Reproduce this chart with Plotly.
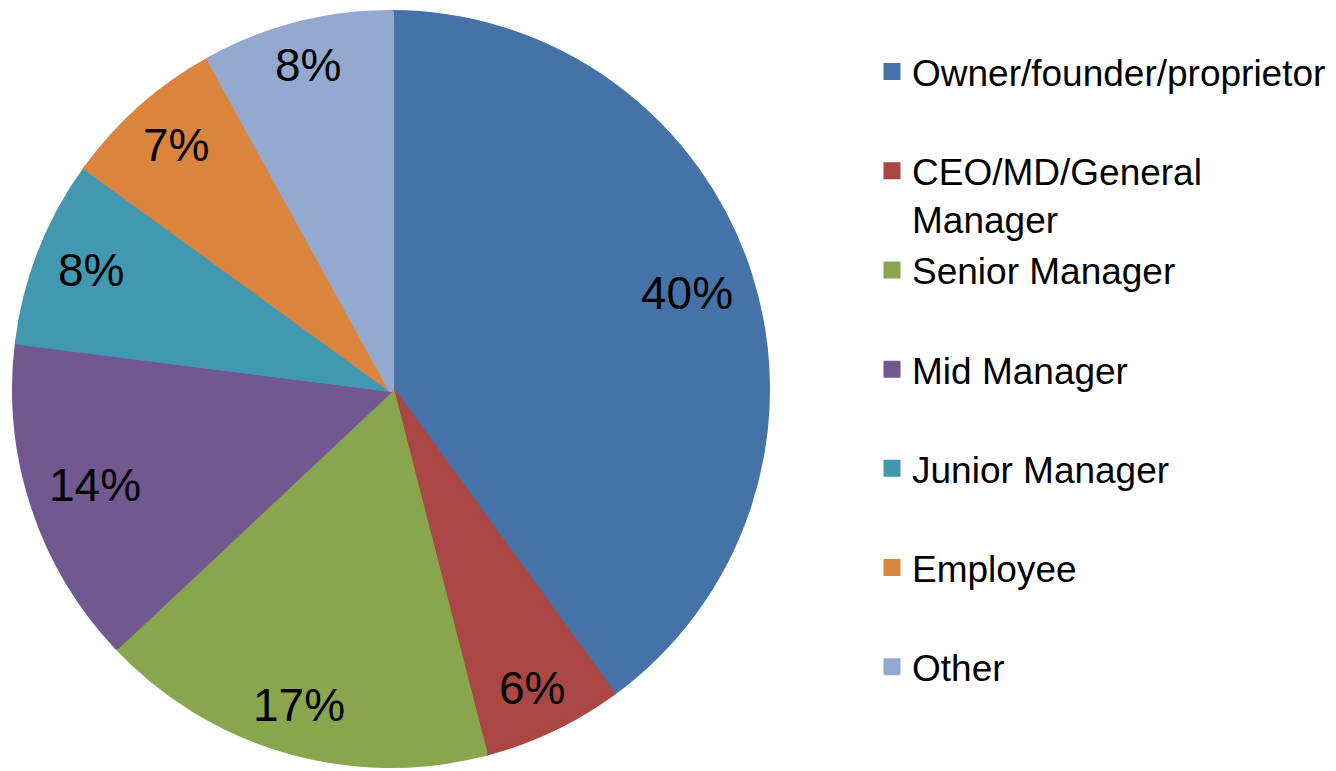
import math
import plotly.graph_objects as go

categories = ["Owner/founder/proprietor", "CEO/MD/General<br>Manager", "Senior Manager",
              "Mid Manager", "Junior Manager", "Employee", "Other"]
values = [40, 6, 17, 14, 8, 7, 8]
colors = ["#4572A7", "#AA4643", "#89A54E", "#71588F", "#4198AF", "#DB843D", "#93A9CF"]

W, H = 1336, 771
OFF = 8  # page body margin
CX, CY, R = 391, 389, 379  # pie centre/radius in viewport pixels
EDGE = 3  # half of slice outline width
LABEL_SIZE = 46
INSET = 19

legend_labels = [c if "<br>" in c else c + "<br> " for c in categories]

fig = go.Figure(go.Pie(
    labels=legend_labels,
    values=values,
    sort=False,
    direction="clockwise",
    rotation=0,
    marker=dict(colors=colors, line=dict(width=2 * EDGE, color=colors)),
    textinfo="none",
    domain=dict(x=[(CX - OFF - R + EDGE) / W, (CX - OFF + R - EDGE) / W],
                y=[1 - (CY - OFF + R - EDGE) / H, 1 - (CY - OFF - R + EDGE) / H]),
    hoverinfo="label+percent",
))

# percentage labels placed "inside end", like the original
char_w = {"%": 0.889}
total = sum(values)
cum = 0
for v in values:
    mid = (cum + v / 2) / total * 2 * math.pi
    cum += v
    txt = f"{round(v / total * 100)}%"
    w = sum(char_w.get(ch, 0.556) for ch in txt) * LABEL_SIZE / 2
    h = 0.716 * LABEL_SIZE / 2
    ux, uy = math.sin(mid), -math.cos(mid)
    b = abs(ux) * w + abs(uy) * h
    rin = R - INSET
    d = -b + math.sqrt(b * b - (w * w + h * h - rin * rin))
    px = CX + d * ux - OFF
    py = CY + d * uy - OFF
    fig.add_annotation(
        x=px / W, y=1 - py / H, xref="paper", yref="paper",
        text=txt, showarrow=False, xanchor="center", yanchor="middle",
        font=dict(family="Liberation Sans, Arial", size=LABEL_SIZE, color="black"),
    )

fig.update_layout(
    width=W, height=H,
    margin=dict(l=0, r=0, t=0, b=0),
    paper_bgcolor="white",
    plot_bgcolor="white",
    font=dict(family="Liberation Sans, Arial", color="black"),
    legend=dict(
        x=864 / W, xanchor="left",
        y=1 - 33 / H, yanchor="top",
        font=dict(size=37, family="Liberation Sans, Arial", color="black"),
        valign="top",
        bgcolor="rgba(0,0,0,0)",
    ),
)

fig.write_html("out.html")
